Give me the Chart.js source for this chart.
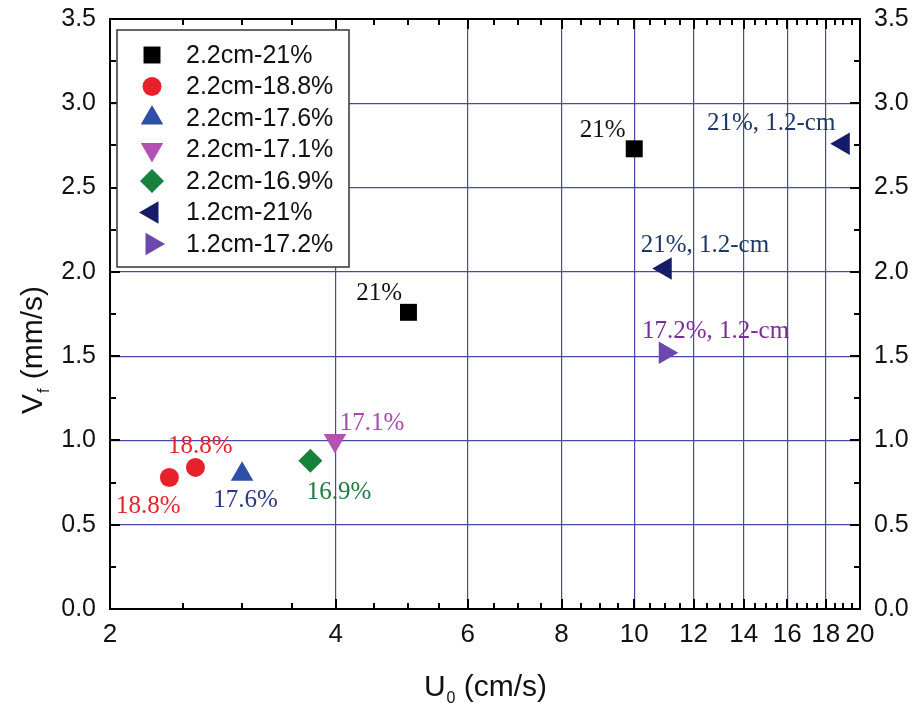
<!DOCTYPE html>
<html>
<head>
<meta charset="utf-8">
<script src="https://cdn.jsdelivr.net/npm/chart.js@4.4.0/dist/chart.umd.min.js"></script>
<style>
html, body { margin: 0; padding: 0; background: #fff; }
#wrap { width: 912px; height: 704px; }
</style>
</head>
<body>
<div id="wrap"><canvas id="chart" width="912" height="704"></canvas></div>
<script>
// series
const seriesNames = ["2.2cm-21%", "2.2cm-18.8%", "2.2cm-17.6%", "2.2cm-17.1%", "2.2cm-16.9%", "1.2cm-21%", "1.2cm-17.2%"];
const seriesColors = ["#000000", "#e8202a", "#2e4fa8", "#b452b4", "#17803c", "#161c6a", "#6c48ac"];
const seriesShapes = ["rect", "circle", "triangle", "triangle", "rectRot", "triangle", "triangle"];
const seriesRotation = [0, 0, 0, 180, 0, -90, 90];
const seriesRadius = [12, 9.5, 13, 13, 12, 13, 13];

const u0 = [[5.0, 10.0], [2.40, 2.60], [3.0], [3.99], [3.70], [11.0, 19.0], [11.0]];
const vf = [[1.76, 2.73], [0.78, 0.84], [0.80], [1.00], [0.88], [2.02, 2.76], [1.52]];

// point notes (text, anchor in data units)
const noteText = ["21%", "21%", "21%, 1.2-cm", "21%, 1.2-cm", "17.2%, 1.2-cm", "17.1%", "18.8%", "18.8%", "17.6%", "16.9%"];
const noteU0 = [8.46, 4.26, 12.5, 10.2, 10.24, 4.05, 2.39, 2.037, 2.746, 3.66];
const noteVf = [2.80, 1.833, 2.84, 2.116, 1.606, 1.062, 0.927, 0.568, 0.607, 0.653];
const noteColors = ["#111111", "#111111", "#1d3766", "#1d3766", "#7a2c9e", "#a848b0", "#e8202a", "#e8202a", "#28378a", "#1c7a3a"];

// ticks
const xTicks = [2, 4, 6, 8, 10, 12, 14, 16, 18, 20];
const xMinorTicks = [2.5, 3, 3.5, 4.5, 5, 5.5, 6.5, 7, 7.5, 8.5, 9, 9.5, 10.5, 11, 11.5,
    12.5, 13, 13.5, 14.5, 15, 15.5, 16.5, 17, 17.5, 18.5, 19, 19.5];
const yTicks = [0, 0.5, 1.0, 1.5, 2.0, 2.5, 3.0, 3.5];
const yMinorTicks = [0.25, 0.75, 1.25, 1.75, 2.25, 2.75, 3.25];

const gridBlue = "#4848a8";

const datasets = seriesNames.map((name, i) => ({
    label: name,
    data: u0[i].map((x, j) => ({ x: x, y: vf[i][j] })),
    showLine: false,
    pointStyle: seriesShapes[i],
    rotation: seriesRotation[i],
    pointRadius: seriesRadius[i],
    pointHoverRadius: seriesRadius[i],
    pointBorderWidth: 0,
    backgroundColor: seriesColors[i],
    borderColor: seriesColors[i]
}));

const decorations = {
    id: "decorations",
    afterDraw(chart) {
        const ctx = chart.ctx;
        const xs = chart.scales.x;
        const ys = chart.scales.y;
        const a = chart.chartArea;
        ctx.save();

        // frame
        ctx.strokeStyle = "#000";
        ctx.lineWidth = 2;
        ctx.strokeRect(a.left, a.top, a.right - a.left, a.bottom - a.top);

        // inward ticks
        ctx.lineWidth = 2;
        ctx.beginPath();
        xTicks.forEach(v => {
            const px = Math.round(xs.getPixelForValue(v));
            ctx.moveTo(px, a.bottom); ctx.lineTo(px, a.bottom - 10);
            ctx.moveTo(px, a.top); ctx.lineTo(px, a.top + 10);
        });
        xMinorTicks.forEach(v => {
            const px = Math.round(xs.getPixelForValue(v));
            ctx.moveTo(px, a.bottom); ctx.lineTo(px, a.bottom - 6);
            ctx.moveTo(px, a.top); ctx.lineTo(px, a.top + 6);
        });
        yTicks.forEach(v => {
            const py = Math.round(ys.getPixelForValue(v));
            ctx.moveTo(a.left, py); ctx.lineTo(a.left + 10, py);
            ctx.moveTo(a.right, py); ctx.lineTo(a.right - 10, py);
        });
        yMinorTicks.forEach(v => {
            const py = Math.round(ys.getPixelForValue(v));
            ctx.moveTo(a.left, py); ctx.lineTo(a.left + 6, py);
            ctx.moveTo(a.right, py); ctx.lineTo(a.right - 6, py);
        });
        ctx.stroke();

        // tick labels
        ctx.fillStyle = "#111";
        ctx.font = "25px 'Liberation Sans', Arial, sans-serif";
        ctx.textBaseline = "middle";
        yTicks.forEach(v => {
            const py = ys.getPixelForValue(v);
            ctx.textAlign = "right";
            ctx.fillText(v.toFixed(1), a.left - 14, py);
            ctx.textAlign = "left";
            ctx.fillText(v.toFixed(1), a.right + 14, py);
        });
        ctx.font = "26px 'Liberation Sans Narrow', 'Arial Narrow', 'Liberation Sans', sans-serif";
        ctx.textAlign = "center";
        ctx.textBaseline = "top";
        xTicks.forEach(v => {
            ctx.fillText(String(v), xs.getPixelForValue(v), a.bottom + 13);
        });

        // axis titles
        ctx.textBaseline = "alphabetic";
        ctx.textAlign = "left";
        const bigFont = "30px 'Liberation Sans', Arial, sans-serif";
        const subFont = "16px 'Liberation Sans', Arial, sans-serif";
        // U0 (cm/s)
        ctx.font = bigFont;
        const w1 = ctx.measureText("U").width;
        ctx.font = subFont;
        const w2 = ctx.measureText("0").width;
        ctx.font = bigFont;
        const w3 = ctx.measureText(" (cm/s)").width;
        let tx = 485 - (w1 + w2 + w3) / 2;
        const ty = 696;
        ctx.fillText("U", tx, ty);
        ctx.font = subFont;
        ctx.fillText("0", tx + w1 + 1, ty + 7);
        ctx.font = bigFont;
        ctx.fillText(" (cm/s)", tx + w1 + w2 + 1, ty);

        // Vf (mm/s)
        ctx.save();
        ctx.translate(42, 351);
        ctx.rotate(-Math.PI / 2);
        ctx.font = bigFont;
        const v1 = ctx.measureText("V").width;
        ctx.font = subFont;
        const v2 = ctx.measureText("f").width;
        ctx.font = bigFont;
        const v3 = ctx.measureText(" (mm/s)").width;
        let vx = -(v1 + v2 + v3) / 2;
        ctx.fillText("V", vx, 0);
        ctx.font = subFont;
        ctx.fillText("f", vx + v1 + 1, 7);
        ctx.font = bigFont;
        ctx.fillText(" (mm/s)", vx + v1 + v2 + 2, 0);
        ctx.restore();

        // notes next to points
        ctx.font = "25px 'Liberation Serif', 'Times New Roman', serif";
        ctx.textAlign = "left";
        ctx.textBaseline = "alphabetic";
        noteText.forEach((t, i) => {
            ctx.fillStyle = noteColors[i];
            ctx.fillText(t, xs.getPixelForValue(noteU0[i]), ys.getPixelForValue(noteVf[i]));
        });

        // legend box
        const lx = 117, ly = 30, lw = 232, lh = 237;
        ctx.fillStyle = "#fff";
        ctx.fillRect(lx, ly, lw, lh);
        ctx.strokeStyle = "#333";
        ctx.lineWidth = 1.5;
        ctx.strokeRect(lx, ly, lw, lh);
        ctx.font = "25px 'Liberation Sans', Arial, sans-serif";
        ctx.textBaseline = "middle";
        seriesNames.forEach((name, i) => {
            const cy = 55 + i * 31.5;
            ctx.fillStyle = seriesColors[i];
            Chart.helpers.drawPoint(ctx, {
                pointStyle: seriesShapes[i],
                rotation: seriesRotation[i],
                radius: seriesRadius[i],
                borderWidth: 0
            }, 152, cy);
            ctx.fillStyle = "#111";
            ctx.fillText(name, 186, cy + 1);
        });

        ctx.restore();
    }
};

new Chart(document.getElementById("chart"), {
    type: "scatter",
    data: { datasets: datasets },
    options: {
        responsive: false,
        animation: false,
        devicePixelRatio: 1,
        layout: { padding: { left: 110, top: 19, right: 52, bottom: 95 } },
        plugins: {
            legend: { display: false },
            tooltip: { enabled: false }
        },
        scales: {
            x: {
                type: "logarithmic",
                min: 2,
                max: 20,
                afterBuildTicks: s => { s.ticks = xTicks.map(v => ({ value: v })); },
                ticks: { display: false },
                border: { display: false },
                grid: {
                    drawTicks: false,
                    lineWidth: 1.2,
                    color: c => (c.tick && c.tick.value > 2 && c.tick.value < 20) ? gridBlue : "rgba(0,0,0,0)"
                }
            },
            y: {
                type: "linear",
                min: 0,
                max: 3.5,
                afterBuildTicks: s => { s.ticks = yTicks.map(v => ({ value: v })); },
                ticks: { display: false },
                border: { display: false },
                grid: {
                    drawTicks: false,
                    lineWidth: 1.2,
                    color: c => (c.tick && c.tick.value > 0 && c.tick.value < 3.5) ? gridBlue : "rgba(0,0,0,0)"
                }
            }
        }
    },
    plugins: [decorations]
});
</script>
</body>
</html>
